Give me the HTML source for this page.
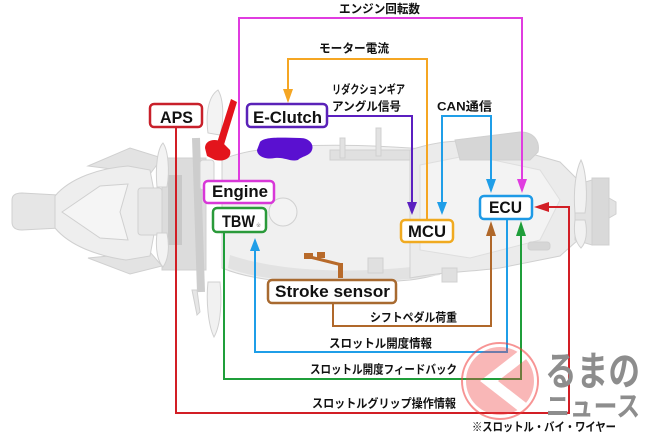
<!DOCTYPE html>
<html><head><meta charset="utf-8"><style>
html,body{margin:0;padding:0;background:#fff;}
body{width:650px;height:433px;overflow:hidden;}
svg{display:block;}
.b{font-family:"Liberation Sans",Arial,sans-serif;font-weight:bold;font-size:17px;fill:#111;}
.j{font-family:"Liberation Sans","Noto Sans CJK JP",sans-serif;font-weight:bold;font-size:12px;fill:#111;}
</style></head><body>
<svg width="650" height="433" viewBox="0 0 650 433" xmlns="http://www.w3.org/2000/svg">
<rect width="650" height="433" fill="#fff"/>
<!-- motorcycle -->
<g stroke="#d0d0d0" stroke-width="1" fill="#ececec">
 <path d="M12,200 Q12,193 22,193 L58,195 L60,228 L22,230 Q12,230 12,222 Z" fill="#e6e6e6"/>
 <path d="M88,166 L130,148 L162,158 L150,174 Z" fill="#e3e3e3"/>
 <path d="M88,258 L130,274 L162,266 L150,252 Z" fill="#e3e3e3"/>
 <path d="M55,196 C70,178 100,168 128,166 L150,170 L158,212 L150,256 L126,260 C98,256 70,246 55,228 Z" fill="#eeeeee"/>
 <path d="M62,212 L100,186 L128,184 L120,212 L128,240 L100,238 Z" fill="#f5f5f5"/>
 <rect x="138" y="188" width="24" height="47" rx="3" fill="#e7e7e7"/>
 <rect x="162" y="158" width="44" height="112" fill="#dcdcdc"/>
 <rect x="168" y="175" width="14" height="70" fill="#c8c8c8" stroke="none"/>
 <path d="M196,138 L201,292" stroke="#cdcdcd" stroke-width="8" fill="none"/>
 <path d="M157,187 C155,165 158,148 163,143 C168,150 170,170 167,187 Z" fill="#f3f3f3"/>
 <path d="M157,233 C155,250 158,262 163,267 C168,260 170,248 167,233 Z" fill="#f3f3f3"/>
 <path d="M208,133 C205,110 210,95 218,90 C224,100 224,120 220,135 Z" fill="#f3f3f3"/>
 <path d="M208,282 C206,300 208,325 214,337 C221,325 222,300 220,282 Z" fill="#f1f1f1"/>
 <path d="M192,290 L197,315 L200,312 L197,290 Z" fill="#e6e6e6"/>
 <rect x="200" y="160" width="14" height="30" rx="3" fill="#f0f0f0"/>
 <path d="M222,160 C250,146 320,142 410,148 C440,150 455,160 460,175 L462,255 C455,270 440,276 410,280 C330,287 260,284 222,268 Z" fill="#f0f0f0"/>
 <path d="M230,255 C280,272 360,276 450,262 L440,275 C360,287 270,285 228,268 Z" fill="#e2e2e2" stroke="none"/>
 <circle cx="283" cy="212" r="14" fill="#f3f3f3"/>
 <path d="M330,150 L420,150 L425,160 L330,160 Z" fill="#e0e0e0"/>
 <rect x="340" y="138" width="5" height="20" fill="#e2e2e2"/>
 <rect x="376" y="128" width="5" height="28" fill="#e2e2e2"/>
 <path d="M410,150 C440,140 470,138 500,145 L560,162 L578,180 L578,240 L560,256 L500,268 C470,272 440,272 410,278 Z" fill="#ebebeb"/>
 <path d="M420,165 L470,155 L540,170 L560,200 L540,240 L470,258 L420,250 Z" fill="#f3f3f3" stroke="#dedede"/>
 <path d="M455,140 L520,132 C535,132 540,142 538,152 L530,160 L460,160 Z" fill="#d6d6d6"/>
 <rect x="528" y="242" width="22" height="8" rx="3" fill="#d6d6d6"/>
 <rect x="368" y="258" width="15" height="15" fill="#e0e0e0"/>
 <rect x="442" y="268" width="15" height="14" fill="#e0e0e0"/>
 <path d="M575,185 L592,180 L592,245 L575,240 Z" fill="#e2e2e2"/>
 <rect x="592" y="178" width="17" height="67" fill="#d9d9d9"/>
 <path d="M609,198 L616,202 L616,214 L609,218 Z" fill="#e2e2e2"/>
 <path d="M575,213 C573,190 576,170 581,160 C586,170 588,195 585,213 Z" fill="#f1f1f1"/>
 <path d="M575,220 C573,235 576,243 581,248 C586,243 588,232 585,220 Z" fill="#f1f1f1"/>
</g>
<!-- colored parts -->
<path d="M231,99 L237,102 L223,148 L216,146 Z" fill="#e3141c"/>
<path d="M205,148 C205,140 215,138 222,142 L230,150 C232,158 225,162 215,160 L207,156 Z" fill="#e3141c"/>
<path d="M260,142 C265,136 285,138 300,138 C310,138 314,145 312,150 C310,156 302,156 298,160 C290,162 285,157 275,158 C265,160 257,156 257,150 Z" fill="#5a10d0"/>
<rect x="304" y="253" width="9" height="6" fill="#b86a2a"/>
<rect x="317" y="252" width="8" height="6" fill="#b86a2a"/>
<path d="M310,257 L342,265" stroke="#b86a2a" stroke-width="3"/>
<rect x="338" y="263" width="5" height="15" fill="#b86a2a"/>

<!-- connectors -->
<g fill="none" stroke-width="2">
 <path d="M239,181 V18 H522 V180" stroke="#e03ce0"/>
 <path d="M427,220 V59 H288 V91" stroke="#f5a623"/>
 <path d="M327,116 H412 V203" stroke="#5b1fc0"/>
 <path d="M442,203 V116 H491 V180" stroke="#1f9ee8"/>
 <path d="M333,303 V326 H491 V235" stroke="#b0682a"/>
 <path d="M507,219 V352 H255 V250" stroke="#1f9ee8"/>
 <path d="M224,232 V379 H521 V235" stroke="#1f9e3a"/>
 <path d="M176,127 V413 H569 V207 H548" stroke="#d21e25"/>
</g>
<polygon points="283,89 293,89 288,103" fill="#f5a623"/>
<polygon points="517,179 527,179 522,193" fill="#e03ce0"/>
<polygon points="407,202 417,202 412,215" fill="#5b1fc0"/>
<polygon points="437,202 447,202 442,215" fill="#1f9ee8"/>
<polygon points="486,179 496,179 491,193" fill="#1f9ee8"/>
<polygon points="486,236 496,236 491,221" fill="#b0682a"/>
<polygon points="516,236 526,236 521,221" fill="#1f9e3a"/>
<polygon points="250,251 260,251 255,238" fill="#1f9ee8"/>
<polygon points="549,202 549,212 534,207" fill="#d21e25"/>

<!-- boxes -->
<g fill="#fff" stroke-width="2.5">
 <rect x="150" y="104" width="52" height="23" rx="4" stroke="#c8202a"/>
 <rect x="247" y="104" width="80" height="23" rx="4" stroke="#5a22b8"/>
 <rect x="204" y="181" width="70" height="22" rx="4" stroke="#d838d8"/>
 <rect x="213" y="208" width="53" height="24" rx="4" stroke="#2a9a3a"/>
 <rect x="401" y="220" width="52" height="22" rx="4" stroke="#f0aa20"/>
 <rect x="480" y="196" width="52" height="23" rx="4" stroke="#1e9ae6"/>
 <rect x="268" y="280" width="128" height="23" rx="4" stroke="#a86a30"/>
</g>
<text class="b" x="160" y="123" textLength="33" lengthAdjust="spacingAndGlyphs">APS</text>
<text class="b" x="253" y="123" textLength="69" lengthAdjust="spacingAndGlyphs">E-Clutch</text>
<text class="b" x="212" y="197" textLength="56" lengthAdjust="spacingAndGlyphs">Engine</text>
<text class="b" x="222" y="227" textLength="33" lengthAdjust="spacingAndGlyphs">TBW</text>
<text x="256" y="227" font-family="Liberation Sans,sans-serif" font-size="6" fill="#999">※</text>
<text class="b" x="408" y="237" textLength="38" lengthAdjust="spacingAndGlyphs">MCU</text>
<text class="b" x="489" y="213" textLength="33" lengthAdjust="spacingAndGlyphs">ECU</text>
<text class="b" x="275" y="297" textLength="115" lengthAdjust="spacingAndGlyphs">Stroke sensor</text>

<!-- labels -->
<text class="j" x="339" y="13" textLength="81" lengthAdjust="spacingAndGlyphs">エンジン回転数</text>
<text class="j" x="319" y="52.5" textLength="70" lengthAdjust="spacingAndGlyphs">モーター電流</text>
<text class="j" x="332" y="93.5" textLength="73" lengthAdjust="spacingAndGlyphs">リダクションギア</text>
<text class="j" x="332" y="110.5" textLength="69" lengthAdjust="spacingAndGlyphs">アングル信号</text>
<text class="j" x="437" y="110.5" textLength="55" lengthAdjust="spacingAndGlyphs">CAN通信</text>
<text class="j" x="370" y="321.5" textLength="87" lengthAdjust="spacingAndGlyphs">シフトペダル荷重</text>
<text class="j" x="329" y="347.5" textLength="103" lengthAdjust="spacingAndGlyphs">スロットル開度情報</text>
<text class="j" x="310" y="373.5" textLength="147" lengthAdjust="spacingAndGlyphs">スロットル開度フィードバック</text>
<text class="j" x="312" y="407.5" textLength="144" lengthAdjust="spacingAndGlyphs">スロットルグリップ操作情報</text>
<text class="j" x="472" y="431" textLength="144" lengthAdjust="spacingAndGlyphs">※スロットル・バイ・ワイヤー</text>

<!-- watermark -->
<defs>
 <mask id="wm">
  <rect x="440" y="320" width="120" height="120" fill="#fff"/>
  <polyline points="525,353 489,381 525,409" fill="none" stroke="#000" stroke-width="11"/>
 </mask>
</defs>
<circle cx="500" cy="381" r="38" fill="none" stroke="#f03c3c" stroke-width="2" opacity="0.55"/>
<circle cx="500" cy="381" r="34" fill="#f04545" opacity="0.38" mask="url(#wm)"/>
<text x="545" y="385" font-family="Liberation Sans,'Noto Sans CJK JP',sans-serif" font-weight="bold" font-size="40" fill="#8d8d8d" textLength="95" lengthAdjust="spacingAndGlyphs">るまの</text>
<text x="546" y="416" font-family="Liberation Sans,'Noto Sans CJK JP',sans-serif" font-weight="bold" font-size="28" fill="#8d8d8d" textLength="94" lengthAdjust="spacingAndGlyphs">ニュース</text>
</svg>
</body></html>
